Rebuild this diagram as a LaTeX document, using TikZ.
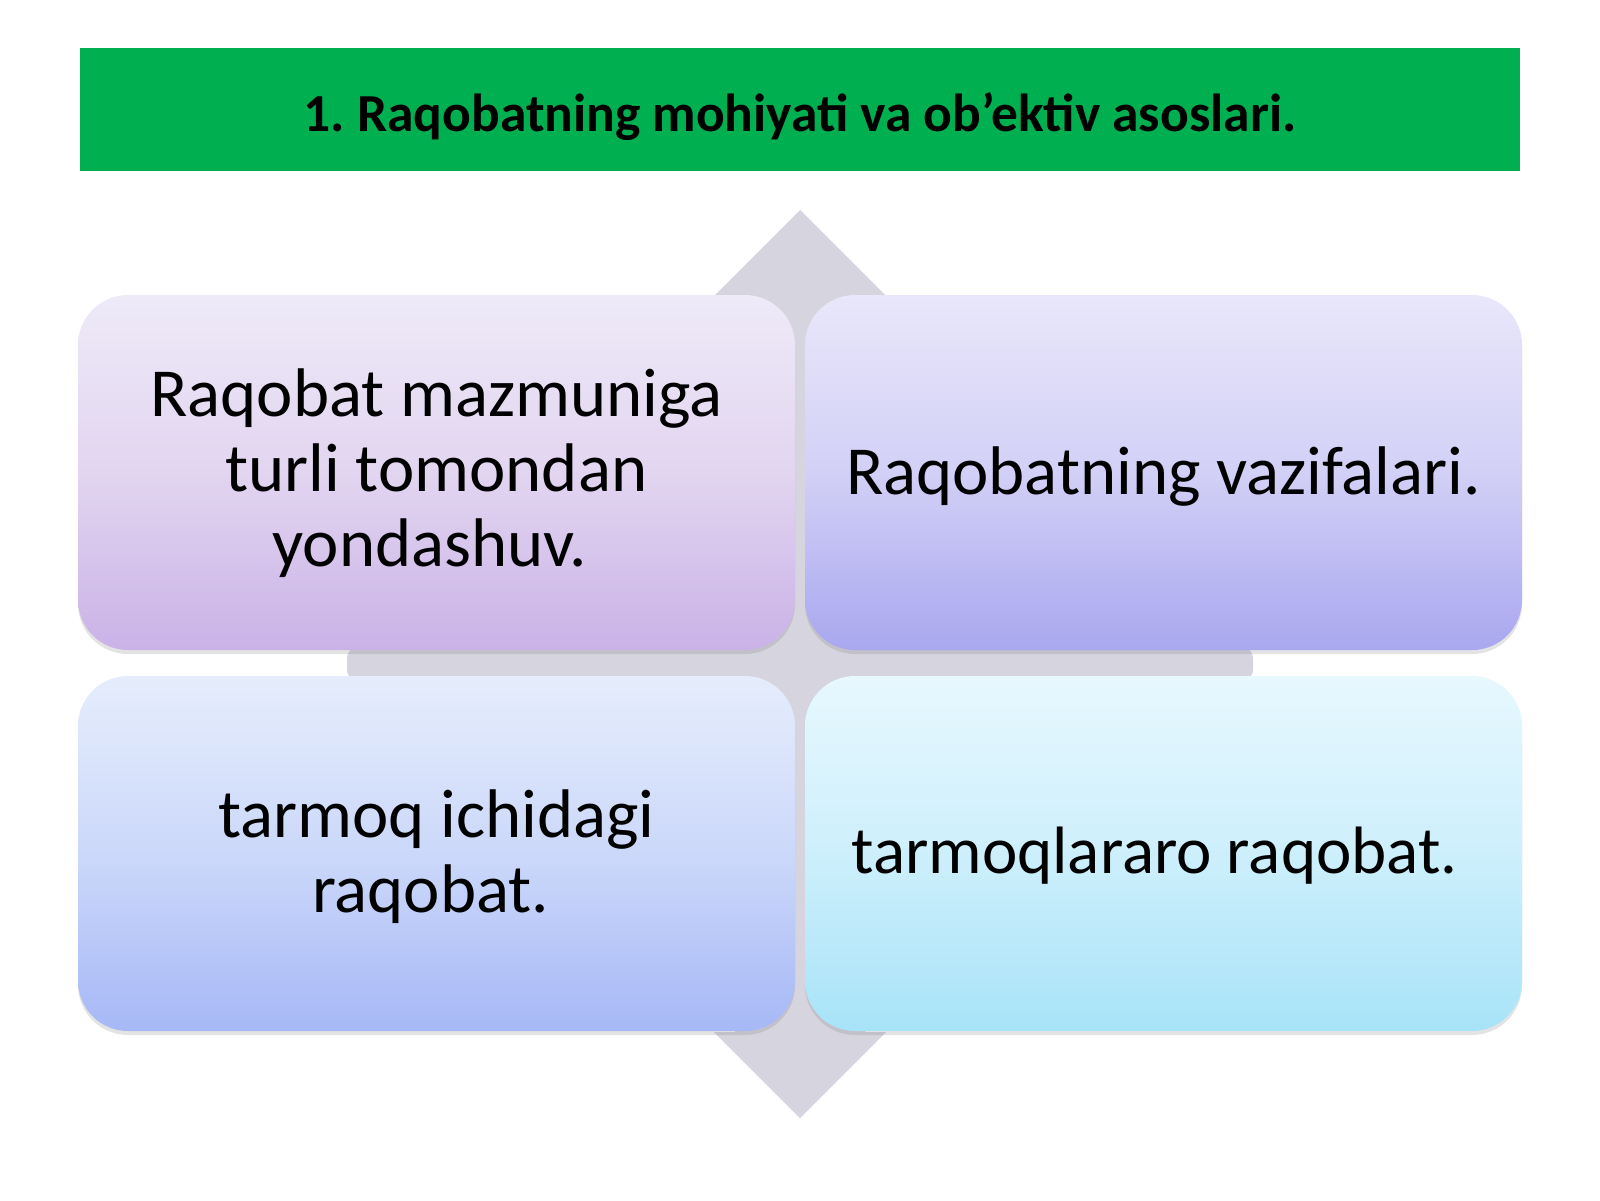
\documentclass[tikz,border=0pt]{standalone}
\usepackage{fontspec}
\setmainfont{Carlito}
\usetikzlibrary{shadows}
\frenchspacing
\definecolor{titlegreen}{HTML}{00B050}
\definecolor{crossgray}{HTML}{D5D4DF}
\definecolor{tlTop}{HTML}{EEEAF8}\definecolor{tlMid}{HTML}{E2D5F0}\definecolor{tlBot}{HTML}{CAB2E7}
\definecolor{trTop}{HTML}{E9E7FA}\definecolor{trMid}{HTML}{D2D0F6}\definecolor{trBot}{HTML}{A9A7EF}
\definecolor{blTop}{HTML}{E5EDFC}\definecolor{blMid}{HTML}{CCD8FA}\definecolor{blBot}{HTML}{A6B8F6}
\definecolor{brTop}{HTML}{E7F8FE}\definecolor{brMid}{HTML}{CDEFFC}\definecolor{brBot}{HTML}{A8E3F8}
\begin{document}
\begin{tikzpicture}[x=1pt,y=-1pt,
  card/.style={rectangle, rounded corners=50pt, minimum width=717pt, minimum height=355pt,
    inner sep=0pt, drop shadow={opacity=0.22, shadow xshift=0pt, shadow yshift=-4pt}},
  cardtext/.style={align=center, inner sep=0pt, text=black,
    font=\fontsize{68.8}{75}\selectfont},
  crossfill/.style={fill=crossgray, draw=none}]
\useasboundingbox[fill=white] (0,0) rectangle (1600,1200);
% title bar
\node[fill=titlegreen, minimum width=1440pt, minimum height=123pt, inner sep=0pt] (titlebar) at (800,109.5) {};
\node[anchor=base, font=\fontsize{53.5}{58}\selectfont\bfseries, text=black] (title) at (800,131)
  {1. Raqobatning mohiyati va ob’ektiv asoslari.};
% background cross
\fill[crossfill] (800,210) -- (886,296) -- (865,296) -- (865,1032) -- (886,1032) -- (800,1118)
  -- (714,1032) -- (735,1032) -- (735,296) -- (714,296) -- cycle;
\fill[crossfill, rounded corners=14pt] (347,645) rectangle (1253,683);
% cards
\node[card, top color=tlTop, bottom color=tlBot, middle color=tlMid] (tl) at (436.5,472.5) {};
\node[card, top color=trTop, bottom color=trBot, middle color=trMid] (tr) at (1163.5,472.5) {};
\node[card, top color=blTop, bottom color=blBot, middle color=blMid] (bl) at (436.5,853.5) {};
\node[card, top color=brTop, bottom color=brBot, middle color=brMid] (br) at (1163.5,853.5) {};
% texts
\node[cardtext] (tltext) at ([yshift=-1pt]tl.center)
  {Raqobat mazmuniga\\turli tomondan\\yondashuv.\kern14pt};
\node[cardtext] (trtext) at ([yshift=-4pt]tr.center) {Raqobatning vazifalari.};
\node[cardtext] (bltext) at ([yshift=-3pt]bl.center) {tarmoq ichidagi\\raqobat.\kern12pt};
\node[cardtext, font=\fontsize{67}{73}\selectfont] (brtext) at ([xshift=-9pt,yshift=-2pt]br.center) {tarmoqlararo raqobat.};
\end{tikzpicture}
\end{document}
